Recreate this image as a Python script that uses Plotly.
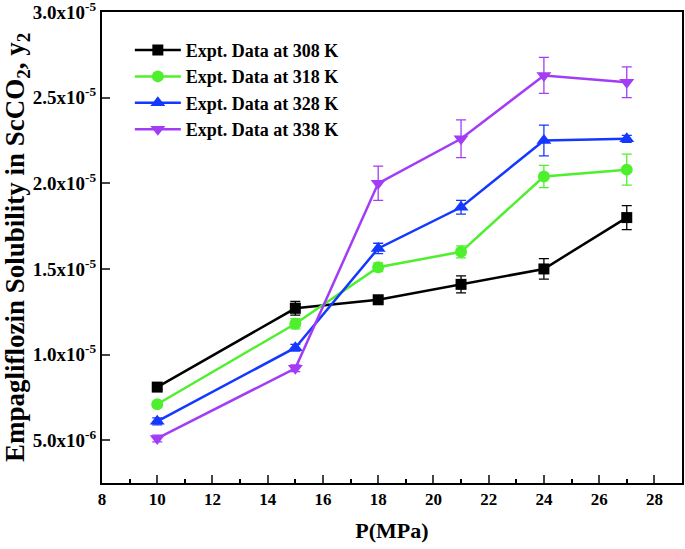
import plotly.graph_objects as go

pressure = [10, 15, 18, 21, 24, 27]

# solubility values (mole fraction), in units of 1e-6
y_308 = [8.1, 12.7, 13.2, 14.1, 15.0, 18.0]
y_318 = [7.1, 11.8, 15.1, 16.0, 20.4, 20.8]
y_328 = [6.1, 10.4, 16.2, 18.6, 22.5, 22.6]
y_338 = [5.1, 9.2, 20.0, 22.6, 26.3, 25.9]

err_308 = [0.15, 0.4, 0.15, 0.5, 0.6, 0.7]
err_318 = [0.15, 0.3, 0.25, 0.35, 0.65, 0.9]
err_328 = [0.2, 0.2, 0.3, 0.4, 0.9, 0.2]
err_338 = [0.2, 0.2, 1.0, 1.1, 1.05, 0.9]

names = ['Expt. Data at 308 K', 'Expt. Data at 318 K',
         'Expt. Data at 328 K', 'Expt. Data at 338 K']
colors = ['#000000', '#4ef02e', '#1438ff', '#a23cf5']
symbols = ['square', 'circle', 'triangle-up', 'triangle-down']
sizes = [11, 12, 13, 13]

ytick_vals = [5e-6, 1e-5, 1.5e-5, 2e-5, 2.5e-5, 3e-5]
ytick_text = ['5.0x10<sup>-6</sup>', '1.0x10<sup>-5</sup>', '1.5x10<sup>-5</sup>',
              '2.0x10<sup>-5</sup>', '2.5x10<sup>-5</sup>', '3.0x10<sup>-5</sup>']

fig = go.Figure()
for name, ys, errs, c, s, sz in zip(names, [y_308, y_318, y_328, y_338],
                                    [err_308, err_318, err_328, err_338],
                                    colors, symbols, sizes):
    fig.add_trace(go.Scatter(
        x=pressure, y=[v * 1e-6 for v in ys], name=name, mode='lines+markers',
        line=dict(color=c, width=2.5),
        marker=dict(symbol=s, size=sz, color=c),
        error_y=dict(type='data', array=[e * 1e-6 for e in errs],
                     color=c, thickness=1.3, width=5),
    ))

font = 'Liberation Serif, Times New Roman, serif'
fig.update_xaxes(range=[8, 29], dtick=2, tick0=8, ticks='inside', ticklen=8,
                 tickwidth=2, showline=True, linecolor='black', linewidth=2,
                 mirror=True, showgrid=False, zeroline=False, automargin=False,
                 minor=dict(ticks='inside', ticklen=4, dtick=1, tickcolor='black'),
                 tickfont=dict(family=font, size=17, color='black', weight='bold'),
                 title=dict(text='P(MPa)', standoff=14,
                            font=dict(family=font, size=22, color='black', weight='bold')))
fig.update_yaxes(range=[2.5e-6, 3.0005e-5], tickvals=ytick_vals, ticktext=ytick_text,
                 ticks='inside', ticklen=8, tickwidth=2, showline=True,
                 linecolor='black', linewidth=2, mirror=True, showgrid=False,
                 zeroline=False, automargin=False, ticklabeloverflow='allow',
                 tickfont=dict(family=font, size=19, color='black', weight='bold'),
                 title=dict(text='Empagliflozin Solubility in ScCO<sub>2</sub>, y<sub>2</sub>',
                            standoff=3,
                            font=dict(family=font, size=27, color='black', weight='bold')))
fig.update_layout(
    width=685, height=549,
    margin=dict(l=102, r=3, t=12, b=66),
    plot_bgcolor='white', paper_bgcolor='white',
    legend=dict(x=0.048, y=0.958, xanchor='left', yanchor='top',
                bgcolor='rgba(0,0,0,0)', itemwidth=46,
                font=dict(family=font, size=18, color='black', weight='bold')),
)
# the page body has an 8px default margin; drop it so the figure sits at 0,0
fig.write_html("out.html", config={'displayModeBar': False},
               post_script="document.body.style.margin='0';")
